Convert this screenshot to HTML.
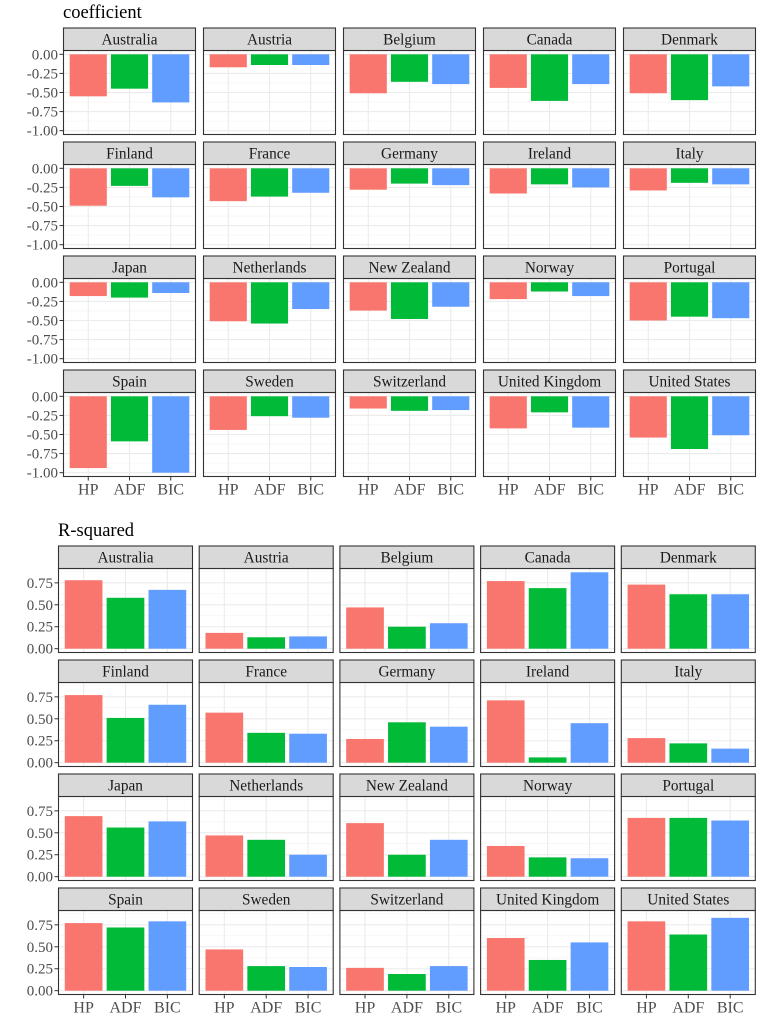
<!DOCTYPE html>
<html><head><meta charset="utf-8">
<style>
html,body{margin:0;padding:0;background:#fff;}
svg{display:block;font-family:"Liberation Serif",serif;}
</style></head>
<body>
<svg id="chart" width="763" height="1035" viewBox="0 0 763 1035" xmlns="http://www.w3.org/2000/svg"></svg>
<script>
const countries = ["Australia","Austria","Belgium","Canada","Denmark","Finland","France","Germany","Ireland","Italy","Japan","Netherlands","New Zealand","Norway","Portugal","Spain","Sweden","Switzerland","United Kingdom","United States"];
const methods = ["HP","ADF","BIC"];
const methodColors = ["#F8766D","#00BA38","#619CFF"];
const coefHP  = [-0.55,-0.17,-0.51,-0.44,-0.51,-0.49,-0.43,-0.28,-0.33,-0.29,-0.18,-0.51,-0.37,-0.22,-0.50,-0.94,-0.44,-0.16,-0.42,-0.54];
const coefADF = [-0.45,-0.14,-0.36,-0.61,-0.60,-0.23,-0.37,-0.20,-0.21,-0.19,-0.20,-0.54,-0.48,-0.12,-0.45,-0.59,-0.26,-0.19,-0.21,-0.69];
const coefBIC = [-0.63,-0.14,-0.39,-0.39,-0.42,-0.38,-0.32,-0.22,-0.25,-0.21,-0.14,-0.35,-0.32,-0.18,-0.47,-1.00,-0.28,-0.18,-0.41,-0.51];
const r2HP  = [0.78,0.18,0.47,0.77,0.73,0.77,0.57,0.27,0.71,0.28,0.69,0.47,0.61,0.35,0.67,0.77,0.47,0.26,0.60,0.79];
const r2ADF = [0.58,0.13,0.25,0.69,0.62,0.51,0.34,0.46,0.06,0.22,0.56,0.42,0.25,0.22,0.67,0.72,0.28,0.19,0.35,0.64];
const r2BIC = [0.67,0.14,0.29,0.87,0.62,0.66,0.33,0.41,0.45,0.16,0.63,0.25,0.42,0.21,0.64,0.79,0.27,0.28,0.55,0.83];
const coefTicks = [0,-0.25,-0.5,-0.75,-1.0];
const coefTickLabels = ["0.00","-0.25","-0.50","-0.75","-1.00"];
const r2Ticks = [0,0.25,0.5,0.75];
const r2TickLabels = ["0.00","0.25","0.50","0.75"];

const NS="http://www.w3.org/2000/svg";
const svg=document.getElementById('chart');
function mk(tag,attrs,parent){const e=document.createElementNS(NS,tag);for(const k in attrs)e.setAttribute(k,attrs[k]);(parent||svg).appendChild(e);return e;}

function drawChart(cfg){
  const g=mk('g',{});
  
  
  const t=mk('text',{x:cfg.titleX,y:cfg.titleY,'font-size':18.5,fill:'#000'},g);
  t.textContent=cfg.title;
  
  
  const series=cfg.series;
  let lo=Math.min(0,...series.flat()), hi=Math.max(0,...series.flat());
  const pad=(hi-lo)*0.05; const d0=lo-pad, d1=hi+pad;
  countries.forEach((c,i)=>{
    const col=i%5,row=Math.floor(i/5);
    const px=cfg.x0+col*cfg.dx, sy=cfg.y0+row*cfg.dy;
    const py=sy+cfg.stripH, ph=cfg.panelH, pw=cfg.panelW;
    const pg=mk('g',{},g);
    
    
    const yS=v=>py+ph-(v-d0)/(d1-d0)*ph;
    const step=pw/3.2; const xC=k=>px+step*(0.6+k);
    mk('rect',{x:px,y:py,width:pw,height:ph,fill:'#fff'},pg);
    for(let k=0;k<cfg.ticks.length;k++){
      const m=cfg.ticks[k]+cfg.minorStep;
      if(m>=d0&&m<=d1) mk('line',{x1:px,x2:px+pw,y1:yS(m),y2:yS(m),stroke:'#F2F2F2','stroke-width':0.6},pg);
    }
    const mlo=cfg.ticks[0]-cfg.minorStep; if(mlo>=d0&&mlo<=d1) mk('line',{x1:px,x2:px+pw,y1:yS(mlo),y2:yS(mlo),stroke:'#F2F2F2','stroke-width':0.6},pg);
    cfg.ticks.forEach(v=>mk('line',{x1:px,x2:px+pw,y1:yS(v),y2:yS(v),stroke:'#EBEBEB','stroke-width':1.1},pg));
    methods.forEach((m,k)=>mk('line',{x1:xC(k),x2:xC(k),y1:py,y2:py+ph,stroke:'#EBEBEB','stroke-width':1.1},pg));
    methods.forEach((m,k)=>{
      const v=series[k][i]; const ya=yS(0), yb=yS(v);
      const r=mk('rect',{x:xC(k)-step*0.45,y:Math.min(ya,yb),width:step*0.9,height:Math.abs(yb-ya),fill:methodColors[k]},pg);
      
      
    });
    mk('rect',{x:px,y:py,width:pw,height:ph,fill:'none',stroke:'#333','stroke-width':1.1},pg);
    const st=mk('rect',{x:px,y:sy,width:pw,height:cfg.stripH,fill:'#D9D9D9',stroke:'#333','stroke-width':1.1},pg);
    
    
    const tl=mk('text',{x:px+pw/2,y:sy+cfg.stripH/2+5,'text-anchor':'middle','font-size':15.3,fill:'#1A1A1A'},pg);
    tl.textContent=c;
    
    
    if(col===0){
      cfg.ticks.forEach((v,k)=>{
        mk('line',{x1:px-4,x2:px,y1:yS(v),y2:yS(v),stroke:'#333','stroke-width':1},pg);
        const lb=mk('text',{x:px-5.5,y:yS(v)+5,'text-anchor':'end','font-size':15,fill:'#4D4D4D'},pg);
        lb.textContent=cfg.tickLabels[k];
        
        
      });
    }
    if(row===3){
      methods.forEach((m,k)=>{
        mk('line',{x1:xC(k),x2:xC(k),y1:py+ph,y2:py+ph+4,stroke:'#333','stroke-width':1},pg);
        const lb=mk('text',{x:xC(k),y:py+ph+18,'text-anchor':'middle','font-size':16,fill:'#4D4D4D'},pg);
        lb.textContent=m;
        
        
      });
    }
  });
}
drawChart({name:'coefficient-chart',title:'coefficient',titleX:63,titleY:18,series:[coefHP,coefADF,coefBIC],
  ticks:coefTicks,tickLabels:coefTickLabels,minorStep:-0.125,
  x0:63.5,dx:140,y0:28,dy:114,stripH:22.5,panelH:84,panelW:132});
drawChart({name:'r-squared-chart',title:'R-squared',titleX:58,titleY:536,series:[r2HP,r2ADF,r2BIC],
  ticks:r2Ticks,tickLabels:r2TickLabels,minorStep:0.125,
  x0:58.5,dx:140.7,y0:546,dy:114,stripH:22.5,panelH:84,panelW:134});
</script>
</body></html>
